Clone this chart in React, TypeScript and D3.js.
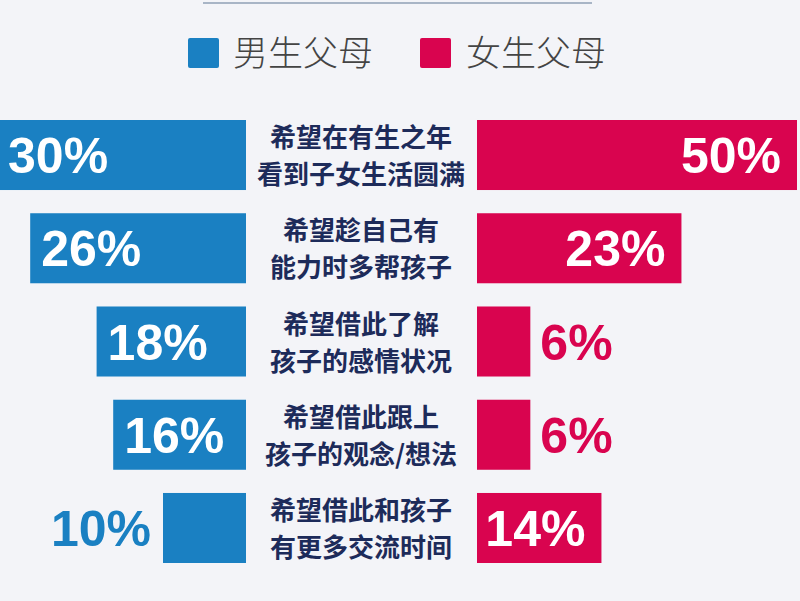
import React from "react";
import * as d3 from "d3";

const categoriesLine1 = ["希望在有生之年", "希望趁自己有", "希望借此了解", "希望借此跟上", "希望借此和孩子"];
const categoriesLine2 = ["看到子女生活圆满", "能力时多帮孩子", "孩子的感情状况", "孩子的观念/想法", "有更多交流时间"];
const boysParents = [30, 26, 18, 16, 10];
const girlsParents = [50, 23, 6, 6, 14];
const seriesNames = ["男生父母", "女生父母"];

const W = 800;
const H = 601;
const BLUE = "#1a80c2";
const PINK = "#d9044f";
const BG = "#f3f4f8";
const NAVY = "#1d2b5a";

export default function App() {
  const leftEdge = 246;
  const rightEdge = 477;
  const y = d3
    .scaleBand<number>()
    .domain(d3.range(categoriesLine1.length))
    .range([120, 563])
    .paddingInner(0.249)
    .paddingOuter(0);
  const xL = d3.scaleLinear().domain([0, 30]).range([0, 249]);
  const xR = d3.scaleLinear().domain([0, 36]).range([0, 320]).clamp(true);
  const bh = y.bandwidth();
  const centerX = 361;
  const fontNum = "'Liberation Sans', Arial, sans-serif";
  const fontCJK = "'Noto Sans CJK SC', sans-serif";

  return (
    <svg
      width={W}
      height={H}
      style={{ position: "absolute", left: 0, top: 0, background: BG }}
    >
      <rect x={0} y={0} width={W} height={H} fill={BG} />
      <line x1={203} x2={592} y1={3} y2={3} stroke="#8fa0b6" strokeWidth={1.5} />
      <g>
        <rect x={188} y={38} width={31} height={30} rx={2} fill={BLUE} />
        <text x={233} y={66} fontFamily={fontCJK} fontSize={35} fill="#444" fontWeight={300}>
          {seriesNames[0]}
        </text>
        <rect x={420} y={38} width={31} height={30} rx={2} fill={PINK} />
        <text x={466} y={66} fontFamily={fontCJK} fontSize={35} fill="#444" fontWeight={300}>
          {seriesNames[1]}
        </text>
      </g>
      {categoriesLine1.map((c, i) => {
        const y0 = y(i)!;
        const cy = y0 + bh / 2;
        const wl = xL(boysParents[i]);
        const wr = xR(girlsParents[i]);
        const blueInside = wl > 110;
        const pinkInside = wr > 100;
        return (
          <g key={i}>
            <rect x={leftEdge - wl} y={y0} width={wl} height={bh} fill={BLUE} />
            <rect x={rightEdge} y={y0} width={wr} height={bh} fill={PINK} />
            <text
              x={blueInside ? leftEdge - wl + 11 : leftEdge - wl - 12}
              y={cy + 18}
              textAnchor={blueInside ? "start" : "end"}
              fontFamily={fontNum}
              fontWeight={700}
              fontSize={50}
              fill={blueInside ? "#fff" : BLUE}
            >
              {boysParents[i]}%
            </text>
            <text
              x={pinkInside ? rightEdge + wr - 16 : rightEdge + wr + 10}
              y={cy + 18}
              textAnchor={pinkInside ? "end" : "start"}
              fontFamily={fontNum}
              fontWeight={700}
              fontSize={50}
              fill={pinkInside ? "#fff" : PINK}
            >
              {girlsParents[i]}%
            </text>
            <text
              x={centerX}
              y={cy - 8}
              textAnchor="middle"
              fontFamily={fontCJK}
              fontWeight={700}
              fontSize={26}
              fill={NAVY}
            >
              {c}
            </text>
            <text
              x={centerX}
              y={cy + 29}
              textAnchor="middle"
              fontFamily={fontCJK}
              fontWeight={700}
              fontSize={26}
              fill={NAVY}
            >
              {categoriesLine2[i]}
            </text>
          </g>
        );
      })}
    </svg>
  );
}
